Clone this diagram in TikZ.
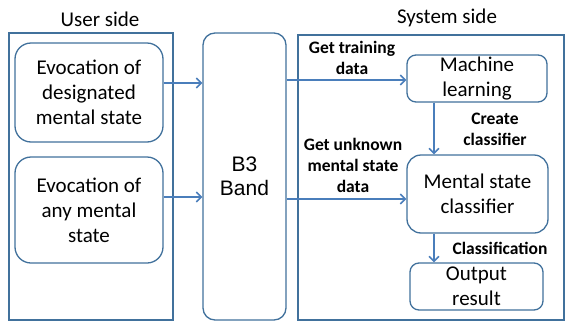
\documentclass[tikz,border=0pt]{standalone}
\usepackage{fontspec}
\usetikzlibrary{arrows.meta}
\setmainfont{Carlito}
\newfontfamily\bandfont{Liberation Sans}
\definecolor{BoxBlue}{HTML}{41719C}
\definecolor{ArrowBlue}{HTML}{4A7EBB}

\begin{document}
\begin{tikzpicture}[x=1pt, y=-1pt]

      \tikzstyle{SideBlock} = [
      rectangle,
      draw=BoxBlue,
      line width=1.3pt,
      inner sep=0pt
      ]

      \tikzstyle{StepBlock} = [
      rectangle,
      rounded corners=12pt,
      draw=BoxBlue,
      line width=1.3pt,
      fill=white,
      inner sep=0pt,
      align=center,
      font=\fontsize{21}{25}\selectfont
      ]

      \tikzstyle{FlowLabel} = [
      align=center,
      inner sep=0pt,
      font=\bfseries\fontsize{17.5}{21}\selectfont
      ]

      \tikzstyle{FlowArrow} = [
      -{Straight Barb[length=5pt, width=10pt, line width=1.5pt]},
      draw=ArrowBlue,
      line width=1.6pt
      ]

      \useasboundingbox (0,0) rectangle (566,322);

      \node (UserBox) [SideBlock, minimum width=164pt, minimum height=287pt] at (91,176.5) {};
      \node (UserTitle) [font=\fontsize{21}{25}\selectfont] at (100,19) {User side};

      \node (SystemBox) [SideBlock, minimum width=266pt, minimum height=285pt] at (431,177.5) {};
      \node (SystemTitle) [font=\fontsize{21}{25}\selectfont] at (447,18) {System side};

      \node (EvocDesignated) [StepBlock, minimum width=148pt, minimum height=99pt, rounded corners=16pt] at (89,92.5) {
        Evocation of\\
        designated\\
        mental state
      };

      \node (EvocAny) [StepBlock, minimum width=148pt, minimum height=106pt, rounded corners=16pt] at (89,210) {
        Evocation of\\
        any mental\\
        state
      };

      \node (B3Band) [StepBlock, minimum width=83pt, minimum height=287pt, font=\bandfont\fontsize{21}{24}\selectfont] at (244.5,176.5) {
        B3\\
        Band
      };

      \node (MachineLearning) [StepBlock, minimum width=140pt, minimum height=47pt, rounded corners=9pt] at (477,78.5) {
        Machine\\
        learning
      };

      \node (StateClassifier) [StepBlock, minimum width=141pt, minimum height=78pt, rounded corners=14pt] at (477.5,194) {
        Mental state\\
        classifier
      };

      \node (OutputResult) [StepBlock, minimum width=133pt, minimum height=47pt, rounded corners=9pt] at (476.5,286.5) {
        Output\\
        result
      };

      \coordinate (DesignatedOut) at ([yshift=9.5pt]EvocDesignated.east);
      \coordinate (AnyOut) at ([yshift=13pt]EvocAny.east);
      \coordinate (UnknownIn) at ([yshift=-5pt]StateClassifier.west);
      \coordinate (LearnOut) at ([xshift=-43pt]MachineLearning.south);
      \coordinate (ClassOut) at ([xshift=-43.5pt]StateClassifier.south);

      \draw [FlowArrow] (DesignatedOut) -- (DesignatedOut -| B3Band.west);
      \draw [FlowArrow] (AnyOut) -- (AnyOut -| B3Band.west);
      \draw [FlowArrow] ([yshift=-1.5pt]B3Band.east |- MachineLearning.west) -- ([yshift=-1.5pt]MachineLearning.west);
      \draw [FlowArrow] (UnknownIn -| B3Band.east) -- (UnknownIn);
      \draw [FlowArrow] (LearnOut) -- (LearnOut |- StateClassifier.north);
      \draw [FlowArrow] (ClassOut) -- (ClassOut |- OutputResult.north);

      \node (TrainingLabel) [FlowLabel] at (352,57.5) {Get training\\data};
      \node (UnknownLabel) [FlowLabel] at (353,165.5) {Get unknown\\mental state\\data};
      \node (CreateLabel) [FlowLabel] at (495,129) {Create\\classifier};
      \node (ClassLabel) [FlowLabel] at (500,248) {Classification};

    \end{tikzpicture}
\end{document}
